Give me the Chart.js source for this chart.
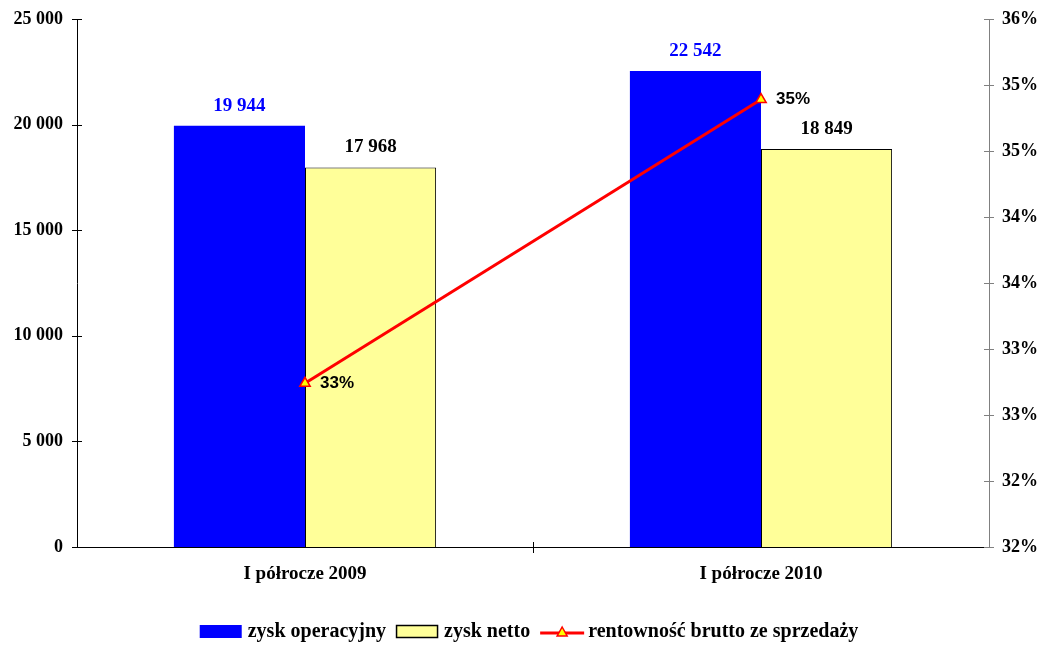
<!DOCTYPE html>
<html>
<head>
<meta charset="utf-8">
<script src="https://cdn.jsdelivr.net/npm/chart.js@4.4.1/dist/chart.umd.min.js"></script>
<style>
  html, body { margin: 0; padding: 0; background: #fff; }
  #chart { display: block; }
</style>
</head>
<body>
<canvas id="chart" width="1042" height="646"></canvas>
<script>
const categories = ['I półrocze 2009', 'I półrocze 2010'];
const operatingProfit = [19944, 22542];
const netProfit = [17968, 18849];
const grossMargin = [33.24, 35.39];
const marginLabels = ['33%', '35%'];
const rightTickLabels = ['32%', '32%', '33%', '33%', '34%', '34%', '35%', '35%', '36%'];
const seriesNames = ['zysk operacyjny', 'zysk netto', 'rentowność brutto ze sprzedaży'];

const SERIF = '"Liberation Serif", "Times New Roman", serif';
const SANS = '"Liberation Sans", Arial, sans-serif';

function fmt(v) {
  return String(v).replace(/\B(?=(\d{3})+(?!\d))/g, ' ');
}

function drawTriangle(ctx, x, y, r) {
  ctx.beginPath();
  ctx.moveTo(x, y - r);
  ctx.lineTo(x + r, y + r * 0.8);
  ctx.lineTo(x - r, y + r * 0.8);
  ctx.closePath();
  ctx.fillStyle = '#FFFF00';
  ctx.fill();
  ctx.lineWidth = 1.5;
  ctx.strokeStyle = '#FF0000';
  ctx.stroke();
}

const extras = {
  id: 'extras',
  afterDatasetsDraw(chart) {
    const ctx = chart.ctx;
    ctx.save();
    // bar value labels
    ctx.font = 'bold 19px ' + SERIF;
    ctx.textAlign = 'center';
    ctx.textBaseline = 'middle';
    [0, 1].forEach(di => {
      const meta = chart.getDatasetMeta(di);
      meta.data.forEach((bar, i) => {
        ctx.fillStyle = di === 0 ? '#0000FF' : '#000000';
        ctx.fillText(fmt(chart.data.datasets[di].data[i]), bar.x, bar.y - 20);
      });
    });
    // line labels
    ctx.font = 'bold 17px ' + SANS;
    ctx.textAlign = 'left';
    ctx.fillStyle = '#000';
    chart.getDatasetMeta(2).data.forEach((pt, i) => {
      ctx.fillText(marginLabels[i], pt.x + 15, pt.y);
    });
    ctx.restore();
  },
  afterDraw(chart) {
    const ctx = chart.ctx;
    const area = chart.chartArea;
    const y = chart.scales.y, y1 = chart.scales.y1, x = chart.scales.x;
    ctx.save();
    // tick marks
    ctx.lineWidth = 1;
    ctx.strokeStyle = '#000';
    y.ticks.forEach(t => {
      const py = Math.round(y.getPixelForValue(t.value)) + 0.5;
      ctx.beginPath(); ctx.moveTo(area.left - 5, py); ctx.lineTo(area.left + 5, py); ctx.stroke();
    });
    ctx.strokeStyle = '#808080';
    y1.ticks.forEach(t => {
      const py = Math.round(y1.getPixelForValue(t.value)) + 0.5;
      ctx.beginPath(); ctx.moveTo(area.right - 5, py); ctx.lineTo(area.right + 5, py); ctx.stroke();
    });
    ctx.strokeStyle = '#000';
    const mid = Math.round((x.getPixelForValue(0) + x.getPixelForValue(1)) / 2) + 0.5;
    ctx.beginPath(); ctx.moveTo(mid, area.bottom - 5); ctx.lineTo(mid, area.bottom + 6); ctx.stroke();

    // legend
    ctx.font = 'bold 20px ' + SERIF;
    ctx.textBaseline = 'middle';
    ctx.textAlign = 'left';
    const boxW = 42, gapBox = 6, gapItem = 10, ly = 632;
    const widths = seriesNames.map(s => ctx.measureText(s).width);
    const total = widths.reduce((a, b) => a + b, 0) + 3 * (boxW + gapBox) + 2 * gapItem;
    let lx = (area.left + area.right) / 2 - total / 2 - 4;
    seriesNames.forEach((name, i) => {
      if (i === 0) {
        ctx.fillStyle = '#0000FF';
        ctx.fillRect(lx, ly - 7, boxW, 13);
      } else if (i === 1) {
        ctx.fillStyle = '#FFFF99';
        ctx.fillRect(lx, ly - 7, boxW, 13);
        ctx.strokeStyle = '#000';
        ctx.lineWidth = 1.5;
        ctx.strokeRect(lx + 0.5, ly - 6.5, boxW - 1, 12);
      } else {
        ctx.strokeStyle = '#FF0000';
        ctx.lineWidth = 3;
        ctx.beginPath(); ctx.moveTo(lx, ly + 1); ctx.lineTo(lx + boxW + 2, ly + 1); ctx.stroke();
        drawTriangle(ctx, lx + boxW / 2 + 1, ly, 5);
      }
      lx += boxW + gapBox;
      ctx.fillStyle = '#000';
      ctx.fillText(name, lx, ly);
      lx += widths[i] + gapItem;
    });
    ctx.restore();
  }
};

function fitVertical(width) {
  return scale => {
    scale.width = width;
    scale.paddingTop = 0;
    scale.paddingBottom = 0;
  };
}

new Chart(document.getElementById('chart'), {
  type: 'bar',
  data: {
    labels: categories,
    datasets: [
      {
        label: seriesNames[0],
        data: operatingProfit,
        backgroundColor: '#0000FF',
        borderWidth: 0,
        yAxisID: 'y',
        order: 1
      },
      {
        label: seriesNames[1],
        data: netProfit,
        backgroundColor: '#FFFF99',
        borderColor: '#000000',
        borderWidth: 1,
        yAxisID: 'y',
        order: 1
      },
      {
        type: 'line',
        label: seriesNames[2],
        data: grossMargin,
        borderColor: '#FF0000',
        borderWidth: 3,
        pointStyle: 'triangle',
        pointRadius: 6,
        pointBackgroundColor: '#FFFF00',
        pointBorderColor: '#FF0000',
        pointBorderWidth: 1.5,
        yAxisID: 'y1',
        order: 0
      }
    ]
  },
  options: {
    responsive: false,
    animation: false,
    devicePixelRatio: 1,
    layout: { padding: { top: 19, left: 0, right: 0, bottom: 0 } },
    datasets: {
      bar: { barPercentage: 1, categoryPercentage: 0.575 }
    },
    plugins: {
      legend: { display: false },
      tooltip: { enabled: false }
    },
    scales: {
      x: {
        offset: true,
        grid: { display: false, drawTicks: false },
        border: { display: true, color: '#000', width: 1 },
        ticks: {
          color: '#000',
          font: { family: SERIF, size: 19, weight: 'bold' },
          padding: 16,
          maxRotation: 0
        },
        afterFit(scale) { scale.height = 99; }
      },
      y: {
        position: 'left',
        min: 0,
        max: 25000,
        grid: { display: false, drawTicks: false },
        border: { display: true, color: '#000', width: 1 },
        ticks: {
          stepSize: 5000,
          color: '#000',
          font: { family: SERIF, size: 18, weight: 'bold' },
          padding: 14,
          callback: v => fmt(v)
        },
        afterFit: fitVertical(77)
      },
      y1: {
        position: 'right',
        min: 32,
        max: 36,
        grid: { display: false, drawTicks: false },
        border: { display: true, color: '#808080', width: 1 },
        ticks: {
          stepSize: 0.5,
          color: '#000',
          font: { family: SERIF, size: 18, weight: 'bold' },
          padding: 13,
          callback: (v, i) => rightTickLabels[i]
        },
        afterFit: fitVertical(53)
      }
    }
  },
  plugins: [extras]
});
</script>
</body>
</html>
